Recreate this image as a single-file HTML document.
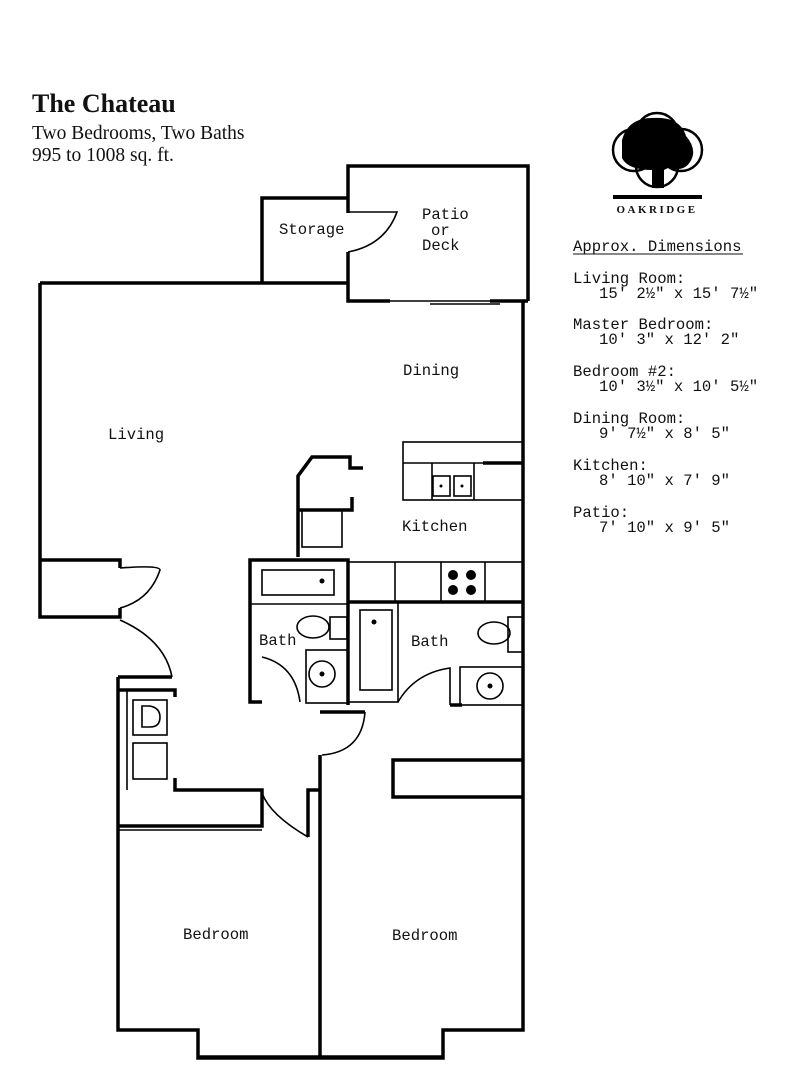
<!DOCTYPE html>
<html><head><meta charset="utf-8"><style>
html,body{margin:0;padding:0;background:#fff;width:795px;height:1080px;overflow:hidden}
svg{display:block}
.m{font-family:"Liberation Mono",monospace;font-size:15.6px;fill:#111}
.s{font-family:"Liberation Serif",serif;fill:#111}
</style></head><body>
<svg width="795" height="1080" viewBox="0 0 795 1080" xmlns="http://www.w3.org/2000/svg">
<text x="32" y="112" class="s" font-size="26" font-weight="bold">The Chateau</text>
<text x="32" y="139" class="s" font-size="19.5">Two Bedrooms, Two Baths</text>
<text x="32" y="161" class="s" font-size="19.5">995 to 1008 sq. ft.</text>
<!-- logo -->
<g fill="none" stroke="#000" stroke-width="2.5">
<circle cx="634" cy="150" r="21"/><circle cx="681" cy="150" r="21"/><circle cx="657" cy="134" r="21"/><circle cx="657" cy="166" r="21"/>
</g>
<path d="M622 140 Q628 118 652 118 Q680 116 686 136 Q698 150 690 162 Q684 172 668 168 L664 170 L664 188 L652 188 L652 170 Q628 170 622 158 Z" fill="#000"/>
<rect x="613" y="195" width="89" height="4" fill="#000"/>
<text x="657" y="213" class="s" font-size="11" font-weight="bold" text-anchor="middle" letter-spacing="2.5">OAKRIDGE</text>
<g class="m">
<text x="573" y="251">Approx. Dimensions</text>
<line x1="573" y1="254" x2="743" y2="254" stroke="#111"/>
<text x="573" y="283">Living Room:</text><text x="599" y="298">15' 2½" x 15' 7½"</text>
<text x="573" y="329">Master Bedroom:</text><text x="599" y="344">10' 3" x 12' 2"</text>
<text x="573" y="376">Bedroom #2:</text><text x="599" y="391">10' 3½" x 10' 5½"</text>
<text x="573" y="423">Dining Room:</text><text x="599" y="438">9' 7½" x 8' 5"</text>
<text x="573" y="470">Kitchen:</text><text x="599" y="485">8' 10" x 7' 9"</text>
<text x="573" y="517">Patio:</text><text x="599" y="532">7' 10" x 9' 5"</text>
</g>
<g fill="none" stroke="#000" stroke-width="3.5" stroke-linejoin="miter">
<polyline points="262,283 262,198 348,198"/>
<polyline points="348,213 348,166 528,166 528,301"/>
<polyline points="348,252 348,301 390,301"/>
<line x1="490" y1="301" x2="528" y2="301"/>
<line x1="40" y1="283" x2="348" y2="283"/>
<polyline points="40,283 40,617 120,617 120,608"/>
<polyline points="40,560 120,560 120,568"/>
<polyline points="118,677 172,677"/>
<polyline points="118,677 118,1030 198,1030 198,1058 443,1058 443,1030 523,1030 523,301"/>
<line x1="320" y1="755" x2="320" y2="1058"/>
<polyline points="363,468 350,468 350,457 312,457 298,476 298,557"/>
<polyline points="298,510 352,510 352,497"/>
<line x1="483" y1="463" x2="523" y2="463"/>
<polyline points="262,702 250,702 250,560 348,560 348,705"/>
<polyline points="348,602 523,602"/>
<line x1="450" y1="705" x2="462" y2="705"/>
<polyline points="175,697 175,690 118,690"/>
<polyline points="175,778 175,790 262,790 262,826 118,826"/>
<polyline points="308,837 308,790 320,790"/>
<line x1="320" y1="712" x2="365" y2="712"/>
<polyline points="523,760 393,760 393,797 523,797"/>
</g>
<g fill="none" stroke="#000" stroke-width="1.6">
<line x1="390" y1="301" x2="490" y2="301"/><line x1="430" y1="304" x2="500" y2="304"/>
<path d="M348,212 L397,212 Q385,245 348,252"/>
<path d="M120,568 Q160,565 160,570 Q150,600 120,608"/>
<path d="M120,620 Q165,640 172,677"/>
<path d="M262,793 Q270,815 308,837"/>
<path d="M365,712 Q362,752 322,755"/>
<line x1="198" y1="1056" x2="320" y2="1056"/><line x1="320" y1="1056" x2="443" y2="1056"/>
<rect x="403" y="442" width="120" height="58"/><line x1="403" y1="463" x2="483" y2="463"/>
<line x1="432" y1="463" x2="432" y2="500"/><line x1="474" y1="463" x2="474" y2="500"/>
<rect x="433" y="476" width="17" height="20"/><rect x="454" y="476" width="17" height="20"/>
<rect x="302" y="510" width="40" height="37"/>
<rect x="348" y="562" width="175" height="40"/>
<line x1="395" y1="562" x2="395" y2="602"/><line x1="441" y1="562" x2="441" y2="602"/><line x1="485" y1="562" x2="485" y2="602"/>
<line x1="250" y1="604" x2="348" y2="604"/>
<rect x="262" y="570" width="72" height="25"/>
<ellipse cx="313" cy="627" rx="16" ry="11"/><rect x="330" y="617" width="17" height="22"/>
<rect x="306" y="650" width="42" height="53"/><circle cx="322" cy="674" r="13"/>
<path d="M262,657 Q295,665 300,702"/>
<rect x="348" y="602" width="50" height="100"/><rect x="360" y="610" width="32" height="80"/>
<ellipse cx="494" cy="633" rx="16" ry="11"/><rect x="508" y="617" width="15" height="35"/>
<rect x="460" y="667" width="63" height="38"/><circle cx="490" cy="686" r="13"/>
<path d="M398,702 Q415,673 450,668 L450,705"/>
<line x1="127" y1="690" x2="127" y2="790"/>
<rect x="133" y="700" width="34" height="35"/><rect x="133" y="743" width="34" height="36"/>
<path d="M142,706 L150,706 Q160,708 160,717 Q160,727 150,727 L142,727 Z"/>
<line x1="118" y1="830" x2="262" y2="830"/>
</g>
<g fill="#000">
<circle cx="322" cy="581" r="2.5"/><circle cx="374" cy="622" r="2.5"/><circle cx="322" cy="674" r="2.5"/><circle cx="490" cy="686" r="2.5"/>
<circle cx="441" cy="486" r="1.5"/><circle cx="462" cy="486" r="1.5"/>
<circle cx="453" cy="575" r="5"/><circle cx="471" cy="575" r="5"/><circle cx="453" cy="590" r="5"/><circle cx="471" cy="590" r="5"/>
</g>
<g class="m">
<text x="279" y="234">Storage</text>
<text x="422" y="219">Patio</text><text x="431" y="235">or</text><text x="422" y="250">Deck</text>
<text x="403" y="375">Dining</text>
<text x="108" y="439">Living</text>
<text x="402" y="531">Kitchen</text>
<text x="259" y="645">Bath</text><text x="411" y="646">Bath</text>
<text x="183" y="939">Bedroom</text><text x="392" y="940">Bedroom</text>
</g>
</svg>
</body></html>
